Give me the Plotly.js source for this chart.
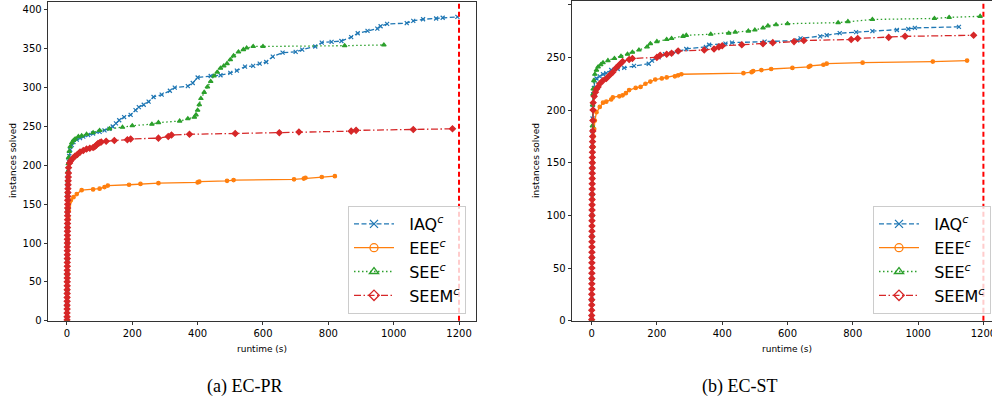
<!DOCTYPE html>
<html>
<head>
<meta charset="utf-8">
<script src="https://cdn.plot.ly/plotly-3.0.1.min.js"></script>
<style>
html,body{margin:0;padding:0;overflow:hidden;background:#fff;width:992px;height:408px;}
#chart{width:1012px;height:408px;}
</style>
</head>
<body>
<div id="chart"></div>
<script>
// ---------- data ----------
const seriesNames = ["IAQ<sup><i>c</i></sup>", "EEE<sup><i>c</i></sup>", "SEE<sup><i>c</i></sup>", "SEEM<sup><i>c</i></sup>"];
const timeLimit = 1200;
const xTicks = [0, 200, 400, 600, 800, 1000, 1200];
const captions = ["(a) EC-PR", "(b) EC-ST"];

// (a) EC-PR
const prIAQ_t = [0.3, 0.5, 0.7, 0.9, 1.1, 1.3, 1.5, 1.8, 2.1, 2.5, 3, 4, 5, 7, 10, 15, 20, 30, 40, 50, 65, 80, 100, 115, 130, 140, 150, 160, 175, 195, 210, 220, 235, 250, 265, 290, 315, 330, 370, 385, 400, 440, 470, 500, 520, 545, 570, 590, 610, 630, 660, 700, 720, 760, 780, 810, 840, 870, 890, 920, 950, 960, 980, 1040, 1060, 1090, 1130, 1150, 1195];
const prIAQ_n = [1, 20, 40, 60, 80, 100, 120, 140, 160, 175, 185, 195, 205, 212, 220, 226, 230, 233, 235, 237, 239, 241, 243, 245, 247, 250, 254, 258, 262, 265, 271, 275, 278, 282, 288, 291, 296, 300, 302, 306, 313, 315, 316, 319, 322, 327, 328, 331, 333, 340, 345, 346, 349, 353, 358, 359, 360, 365, 370, 373, 376, 379, 382, 383, 386, 388, 389, 390, 391];
const prEEE_t = [0.5, 1, 1.5, 2, 2.5, 3, 4, 5, 6, 8, 12, 20, 30, 45, 80, 100, 115, 125, 190, 225, 280, 400, 405, 490, 510, 695, 725, 730, 780, 820];
const prEEE_n = [1, 30, 60, 85, 105, 120, 132, 142, 148, 152, 155, 159, 163, 168, 169, 170, 172, 174, 175, 176, 177, 178, 179, 180, 181, 182, 183, 184, 185, 186];
const prSEE_t = [0.3, 0.5, 0.7, 0.9, 1.1, 1.3, 1.5, 1.8, 2.1, 2.5, 3, 4, 5, 7, 10, 15, 20, 25, 35, 45, 60, 80, 100, 130, 170, 200, 260, 280, 345, 370, 390, 395, 400, 405, 410, 420, 430, 440, 450, 460, 470, 480, 490, 500, 510, 525, 540, 550, 570, 600, 850, 970];
const prSEE_n = [1, 20, 40, 60, 80, 100, 120, 145, 165, 180, 192, 202, 210, 218, 224, 229, 232, 234, 237, 238, 240, 242, 245, 247, 249, 251, 253, 255, 257, 260, 262, 265, 271, 278, 286, 294, 301, 308, 315, 320, 325, 328, 331, 336, 341, 346, 349, 351, 353, 353, 354, 355];
const prSEEM_t = [0.3, 0.35, 0.4, 0.45, 0.5, 0.55, 0.6, 0.65, 0.7, 0.75, 0.8, 0.85, 0.9, 0.95, 1.0, 1.05, 1.1, 1.15, 1.2, 1.25, 1.3, 1.35, 1.4, 1.5, 1.6, 1.7, 1.8, 1.9, 2.0, 2.1, 2.2, 2.4, 2.6, 2.8, 3.0, 3.3, 3.6, 4.0, 4.5, 5, 8, 12, 18, 25, 32, 40, 50, 60, 70, 80, 85, 90, 95, 100, 105, 120, 145, 185, 195, 280, 310, 320, 375, 515, 650, 710, 870, 885, 1060, 1180];
const prSEEM_n = [1, 5, 10, 15, 20, 25, 30, 35, 40, 45, 50, 55, 60, 65, 70, 75, 80, 85, 90, 95, 100, 105, 110, 115, 120, 125, 130, 135, 140, 145, 150, 155, 160, 165, 170, 175, 180, 185, 190, 197, 203, 206, 209, 212, 214, 217, 219, 221, 222, 223, 224, 226, 228, 229, 230, 231, 232, 233, 234, 235, 237, 239, 240, 241, 242, 243, 244, 245, 246, 247];

// (b) EC-ST
const stIAQ_t = [0.3, 0.5, 0.7, 0.9, 1.1, 1.3, 1.5, 1.8, 2.1, 2.5, 3, 4, 5, 7, 10, 15, 25, 35, 45, 60, 80, 100, 130, 175, 185, 205, 225, 245, 265, 290, 350, 360, 410, 430, 530, 630, 640, 700, 720, 760, 810, 860, 935, 970, 990, 1125];
const stIAQ_n = [1, 20, 40, 60, 80, 100, 120, 145, 165, 180, 192, 205, 215, 221, 228, 230, 232, 234, 235, 238, 239, 240, 242, 244, 247, 250, 253, 254, 256, 258, 260, 262, 263, 264, 265, 266, 268, 270, 271, 273, 274, 275, 276, 277, 278, 279];
const stEEE_t = [0.5, 1, 1.5, 2, 2.5, 3, 4, 5, 6, 8, 10, 15, 25, 35, 45, 60, 65, 85, 95, 105, 115, 135, 150, 165, 180, 195, 215, 230, 255, 265, 275, 465, 490, 495, 520, 550, 615, 665, 670, 710, 720, 830, 1045, 1150];
const stEEE_n = [1, 30, 60, 90, 115, 135, 150, 165, 175, 182, 190, 198, 203, 207, 208, 210, 212, 213, 214, 216, 219, 221, 222, 225, 227, 229, 230, 231, 232, 233, 234, 235, 236, 237, 238, 239, 240, 241, 242, 243, 244, 245, 246, 247];
const stSEE_t = [0.3, 0.5, 0.7, 0.9, 1.1, 1.3, 1.5, 1.8, 2.1, 2.5, 3, 4, 5, 7, 10, 15, 20, 28, 35, 50, 70, 90, 110, 125, 145, 170, 180, 200, 230, 245, 280, 290, 365, 420, 440, 480, 500, 525, 540, 565, 600, 755, 785, 860, 1050, 1095, 1190];
const stSEE_n = [1, 20, 40, 60, 80, 100, 120, 145, 165, 185, 205, 215, 220, 228, 234, 238, 241, 243, 245, 247, 249, 251, 253, 255, 257, 260, 263, 265, 267, 268, 270, 271, 272, 273, 274, 275, 276, 278, 280, 281, 282, 283, 284, 286, 287, 288, 289];
const stSEEM_t = [0.3, 0.35, 0.4, 0.45, 0.5, 0.55, 0.6, 0.65, 0.7, 0.75, 0.8, 0.85, 0.9, 0.95, 1.0, 1.05, 1.1, 1.15, 1.2, 1.25, 1.3, 1.35, 1.4, 1.5, 1.6, 1.7, 1.8, 1.9, 2.0, 2.1, 2.2, 2.4, 2.6, 2.8, 3.0, 3.3, 3.6, 4.0, 4.5, 5, 8, 12, 15, 20, 25, 35, 45, 55, 65, 75, 85, 95, 115, 125, 200, 210, 230, 245, 265, 345, 375, 390, 400, 460, 525, 555, 620, 650, 795, 815, 910, 960, 1170];
const stSEEM_n = [1, 5, 10, 15, 20, 25, 30, 35, 40, 45, 50, 55, 60, 65, 70, 75, 80, 85, 90, 95, 100, 105, 110, 115, 120, 125, 130, 135, 140, 145, 150, 155, 160, 165, 170, 175, 180, 190, 200, 207, 213, 217, 220, 222, 225, 228, 230, 233, 236, 240, 243, 246, 248, 249, 250, 252, 253, 254, 256, 257, 258, 260, 261, 262, 263, 264, 265, 266, 267, 268, 269, 270, 271];

// ---------- styles ----------
const colors = ["#1f77b4", "#ff7f0e", "#2ca02c", "#d62728"];
const dashes = ["5px,2.5px", "solid", "1.5px,2.5px", "7px,2.5px,1.5px,2.5px"];
const symbols = ["x-thin-open", "circle-open", "triangle-up-open", "diamond-open"];
const plotSymbols = ["x-thin-open", "circle", "triangle-up", "diamond"];
const plotSizes = [4, 3.5, 4, 4.5];

const W = 1012, H = 408;
const px = v => v / W;
const py = v => (H - v) / H;

const panels = [
  {xa: "x", ya: "y", legend: "legend", data: [[prIAQ_t, prIAQ_n], [prEEE_t, prEEE_n], [prSEE_t, prSEE_n], [prSEEM_t, prSEEM_n]]},
  {xa: "x2", ya: "y2", legend: "legend2", data: [[stIAQ_t, stIAQ_n], [stEEE_t, stEEE_n], [stSEE_t, stSEE_n], [stSEEM_t, stSEEM_n]]}
];

const traces = [];
panels.forEach(p => {
  p.data.forEach((d, i) => {
    traces.push({
      type: "scatter", mode: "lines+markers", x: d[0], y: d[1], xaxis: p.xa, yaxis: p.ya,
      showlegend: false, hoverinfo: "skip",
      line: {color: colors[i], width: 1.3, dash: dashes[i]},
      marker: {symbol: plotSymbols[i], size: plotSizes[i], color: colors[i], line: {color: colors[i], width: 1.2}}
    });
  });
  seriesNames.forEach((name, i) => {
    traces.push({
      type: "scatter", mode: "lines+markers", x: [null], y: [null], xaxis: p.xa, yaxis: p.ya,
      name: "&nbsp;&nbsp;" + name, legend: p.legend, showlegend: true,
      line: {color: colors[i], width: 1.3, dash: dashes[i]},
      marker: {symbol: symbols[i], size: 8, color: colors[i], line: {color: colors[i], width: 1.3}}
    });
  });
});

const axFont = {family: "DejaVu Sans, sans-serif", size: 10, color: "#000"};
function xax(domain, range, anchor) {
  return {domain, range, anchor, tickvals: xTicks, ticks: "outside", ticklen: 3.5, tickwidth: 0.8, tickcolor: "#000",
    showline: true, mirror: true, linecolor: "#000", linewidth: 0.8, showgrid: false, zeroline: false, tickfont: axFont, fixedrange: true};
}
function yax(domain, range, anchor) {
  return {domain, range, anchor, dtick: 50, tick0: 0, ticks: "outside", ticklen: 3.5, tickwidth: 0.8, tickcolor: "#000",
    showline: true, mirror: true, linecolor: "#000", linewidth: 0.8, showgrid: false, zeroline: false, tickfont: axFont, fixedrange: true};
}

const legendCommon = {xanchor: "left", yanchor: "top", bgcolor: "rgba(255,255,255,0.8)", bordercolor: "#cccccc", borderwidth: 1,
  font: {family: "DejaVu Sans, sans-serif", size: 16, color: "#000"}, itemwidth: 40, tracegroupgap: 0};

const labFont = {family: "DejaVu Sans, sans-serif", size: 9, color: "#000"};
const capFont = {family: "Liberation Serif, serif", size: 18, color: "#000"};

const layout = {
  width: W, height: H, margin: {l: 0, r: 0, t: 0, b: 0},
  paper_bgcolor: "#fff", plot_bgcolor: "#fff",
  xaxis: xax([px(48), px(476)], [-58, 1252], "y"),
  yaxis: yax([py(320.7), py(1.8)], [0, 410.5], "x"),
  xaxis2: xax([px(572), px(1003)], [-60, 1260], "y2"),
  yaxis2: yax([py(320.7), py(1.1)], [0, 303.45], "x2"),
  legend: Object.assign({x: px(348), y: py(206)}, legendCommon),
  legend2: Object.assign({x: px(873), y: py(206)}, legendCommon),
  shapes: [
    {type: "line", xref: "x", yref: "y domain", x0: timeLimit, x1: timeLimit, y0: 0, y1: 1, line: {color: "#ff0000", width: 2, dash: "5px,3px"}},
    {type: "line", xref: "x2", yref: "y2 domain", x0: timeLimit, x1: timeLimit, y0: 0, y1: 1, line: {color: "#ff0000", width: 2, dash: "5px,3px"}}
  ],
  annotations: [
    {text: "runtime (s)", xref: "paper", yref: "paper", x: px(262), y: py(349), xanchor: "center", yanchor: "middle", showarrow: false, font: labFont},
    {text: "runtime (s)", xref: "paper", yref: "paper", x: px(787), y: py(349), xanchor: "center", yanchor: "middle", showarrow: false, font: labFont},
    {text: "instances solved", xref: "paper", yref: "paper", x: px(13), y: py(161), xanchor: "center", yanchor: "middle", textangle: -90, showarrow: false, font: labFont},
    {text: "instances solved", xref: "paper", yref: "paper", x: px(536), y: py(161), xanchor: "center", yanchor: "middle", textangle: -90, showarrow: false, font: labFont},
    {text: captions[0], xref: "paper", yref: "paper", x: px(245), y: py(386), xanchor: "center", yanchor: "middle", showarrow: false, font: capFont},
    {text: captions[1], xref: "paper", yref: "paper", x: px(740), y: py(386), xanchor: "center", yanchor: "middle", showarrow: false, font: capFont}
  ]
};

Plotly.newPlot("chart", traces, layout, {staticPlot: true, displayModeBar: false});
</script>
</body>
</html>
